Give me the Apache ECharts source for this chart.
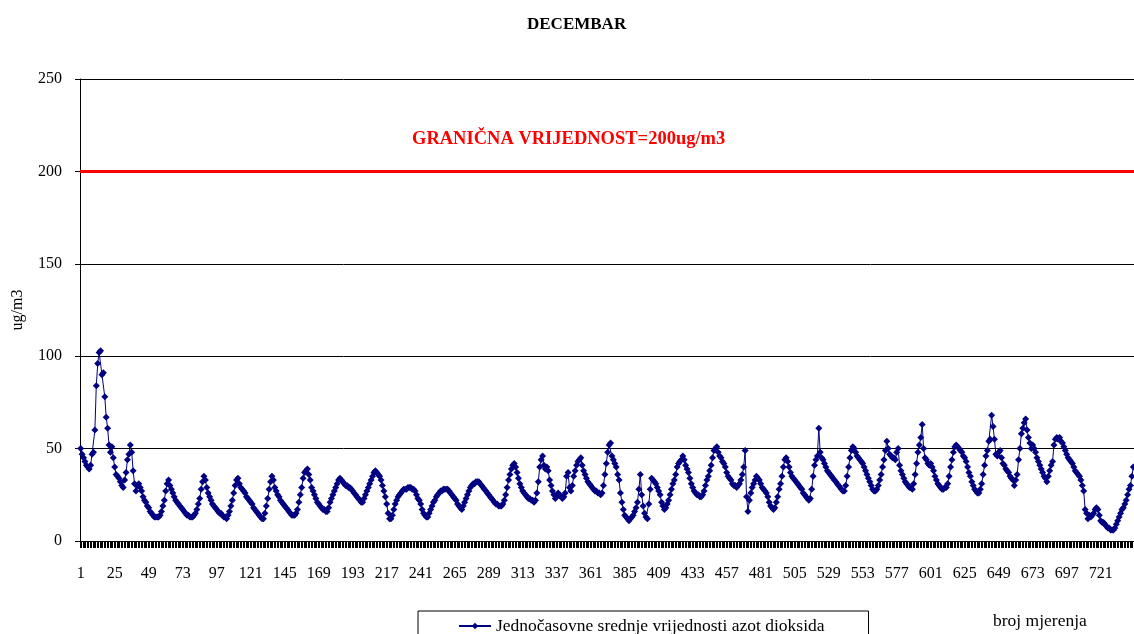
<!DOCTYPE html>
<html>
<head>
<meta charset="utf-8">
<script src="https://cdn.jsdelivr.net/npm/echarts@6/dist/echarts.min.js"></script>
<style>
  html, body { margin: 0; padding: 0; background: #fff; }
  #main { width: 1134px; height: 634px; }
</style>
</head>
<body>
<div id="main"></div>
<script>
// jednocasovne vrijednosti NO2, po danima (24 mjerenja dnevno)
var dan01 = [50,47,45,43,41,40,39,41,47,48,60,84,96,102,103,90,91,78,67,61,52,48,51,45];
var dan02 = [40,36,35,34,32,30,29,33,37,44,47,52,48,38,31,27,30,31,29,27,24,22,21,19];
var dan03 = [18,16,15,14,13,13,13,13,14,16,19,22,27,31,33,30,28,26,24,22,21,20,19,18];
var dan04 = [17,16,15,14,14,13,13,13,14,15,17,20,23,28,32,35,33,29,26,24,22,20,19,18];
var dan05 = [17,16,15,15,14,13,13,12,14,16,19,22,26,30,33,34,31,29,28,27,26,24,23,22];
var dan06 = [21,20,18,17,16,15,14,13,12,12,15,19,23,28,32,35,33,29,27,25,24,22,21,20];
var dan07 = [19,18,17,16,15,14,14,14,15,17,21,25,29,34,37,38,39,36,33,29,27,25,23,21];
var dan08 = [20,19,18,17,17,16,16,18,21,23,25,27,29,31,33,34,33,32,31,30,30,29,29,28];
var dan09 = [27,26,25,24,23,22,21,21,23,25,27,29,31,33,35,37,38,37,36,35,33,30,27,24];
var dan10 = [20,15,12,12,14,17,20,22,24,25,26,27,28,28,28,29,29,29,28,28,27,25,23,22];
var dan11 = [20,17,15,14,13,13,15,17,19,21,22,24,25,26,27,27,28,28,28,28,27,26,25,24];
var dan12 = [23,22,20,19,18,17,19,21,23,25,27,29,30,31,31,32,32,32,31,30,29,28,27,26];
var dan13 = [25,24,23,22,21,20,20,19,19,19,20,22,25,29,33,36,39,41,42,40,37,34,31,29];
var dan14 = [27,26,25,24,23,23,22,22,21,22,26,32,40,44,46,41,39,40,38,33,30,27,25,23];
var dan15 = [24,26,25,24,23,24,26,35,37,29,27,30,35,38,41,43,44,45,41,38,36,34,32,31];
var dan16 = [30,29,28,27,27,26,26,25,26,30,36,42,48,52,53,46,44,42,40,36,33,26,21,17];
var dan17 = [14,13,12,11,12,13,14,16,18,21,28,36,25,19,15,13,12,20,28,34,33,32,31,29];
var dan18 = [27,25,21,19,17,18,20,22,25,28,31,33,36,40,42,43,44,46,44,41,39,37,34,31];
var dan19 = [29,27,26,25,25,24,24,25,27,30,33,35,38,41,45,49,50,51,48,46,45,43,42,40];
var dan20 = [37,35,34,33,31,30,30,29,30,31,33,36,40,49,24,16,22,26,29,31,33,35,34,33];
var dan21 = [31,29,28,27,26,24,21,19,18,17,18,21,24,28,31,35,40,44,45,43,40,37,35,34];
var dan22 = [33,32,31,30,29,28,26,25,24,23,22,23,28,35,41,44,46,61,48,45,44,42,40,38];
var dan23 = [37,36,35,34,33,32,31,30,29,28,27,27,30,35,40,45,49,51,50,48,46,45,44,43];
var dan24 = [42,40,38,36,34,32,30,28,27,27,28,30,33,36,40,44,49,54,50,47,46,45,45,44];
var dan25 = [48,50,41,38,36,34,32,31,30,29,29,28,31,36,42,48,52,56,63,50,45,44,42,41];
var dan26 = [42,40,38,35,33,31,30,29,28,28,29,29,31,35,40,44,48,51,52,51,50,49,48,46];
var dan27 = [45,43,40,37,35,32,30,28,27,26,26,28,31,36,41,46,49,54,55,68,62,55,47,46];
var dan28 = [48,49,45,42,41,39,38,37,35,34,33,30,33,36,44,50,58,61,64,66,60,56,53,50];
var dan29 = [52,50,48,45,43,41,39,37,35,34,32,35,38,41,43,52,55,56,55,56,54,53,51,49];
var dan30 = [47,45,44,43,42,40,38,37,36,35,33,30,27,17,15,12,14,13,14,15,17,18,17,14];
var dan31 = [11,10,10,9,8,7,7,6,6,6,7,9,11,13,15,17,18,20,22,25,28,30,35,40];

var granica = 200;

var vrijednosti = [].concat(dan01,dan02,dan03,dan04,dan05,dan06,dan07,dan08,dan09,dan10,
  dan11,dan12,dan13,dan14,dan15,dan16,dan17,dan18,dan19,dan20,dan21,dan22,dan23,dan24,
  dan25,dan26,dan27,dan28,dan29,dan30,dan31);

var mjerenja = [];
for (var i = 1; i <= vrijednosti.length; i++) {
  mjerenja.push(String(i));
}

var serif = '"Liberation Serif", "Times New Roman", serif';

var myChart = echarts.init(document.getElementById('main'));
var option = {
  animation: false,
  title: {
    text: 'DECEMBAR',
    left: 522,
    top: 11,
    textStyle: { fontFamily: serif, fontSize: 17, fontWeight: 'bold', color: '#000' }
  },
  grid: { left: 80, right: 0, top: 79, bottom: 93 },
  legend: {
    left: 418,
    top: 611,
    padding: [6, 44, 10, 40],
    itemWidth: 32,
    itemHeight: 8,
    itemGap: 5,
    borderColor: '#000',
    borderWidth: 1,
    textStyle: { fontFamily: serif, fontSize: 17.5, color: '#000' },
    data: ['Jednočasovne srednje vrijednosti azot dioksida']
  },
  graphic: [
    {
      type: 'text',
      left: 412,
      top: 130,
      style: {
        text: 'GRANIČNA VRIJEDNOST=200ug/m3',
        font: 'bold 18.5px "Liberation Serif", serif',
        fill: '#ff0000'
      }
    },
    {
      type: 'text',
      left: 993,
      top: 612,
      style: {
        text: 'broj mjerenja',
        font: '17.5px "Liberation Serif", serif',
        fill: '#000'
      }
    }
  ],
  xAxis: {
    type: 'category',
    boundaryGap: true,
    data: mjerenja,
    axisLine: { lineStyle: { color: '#000', width: 1 } },
    axisTick: { show: true, interval: 0, length: 7, lineStyle: { color: '#000' } },
    axisLabel: {
      interval: 23,
      margin: 25,
      fontFamily: serif,
      fontSize: 16,
      color: '#000'
    },
    splitLine: { show: false }
  },
  yAxis: {
    type: 'value',
    min: 0,
    max: 250,
    interval: 50,
    name: 'ug/m3',
    nameLocation: 'middle',
    nameGap: 54,
    nameRotate: 90,
    nameTextStyle: { fontFamily: serif, fontSize: 16, color: '#000' },
    axisLine: { show: true, lineStyle: { color: '#000' } },
    axisTick: { show: true, length: 5, lineStyle: { color: '#000' } },
    axisLabel: { fontFamily: serif, fontSize: 16, color: '#000', margin: 18 },
    splitLine: { show: true, lineStyle: { color: '#000', width: 1 } }
  },
  series: [
    {
      name: 'Jednočasovne srednje vrijednosti azot dioksida',
      type: 'line',
      data: vrijednosti,
      symbol: 'diamond',
      symbolSize: 7,
      showAllSymbol: true,
      itemStyle: { color: '#000080' },
      lineStyle: { color: '#000080', width: 1 },
      markLine: {
        silent: true,
        symbol: 'none',
        label: { show: false },
        lineStyle: { color: '#ff0000', width: 3, type: 'solid' },
        data: [{ yAxis: granica }]
      }
    }
  ]
};
myChart.setOption(option);
</script>
</body>
</html>
